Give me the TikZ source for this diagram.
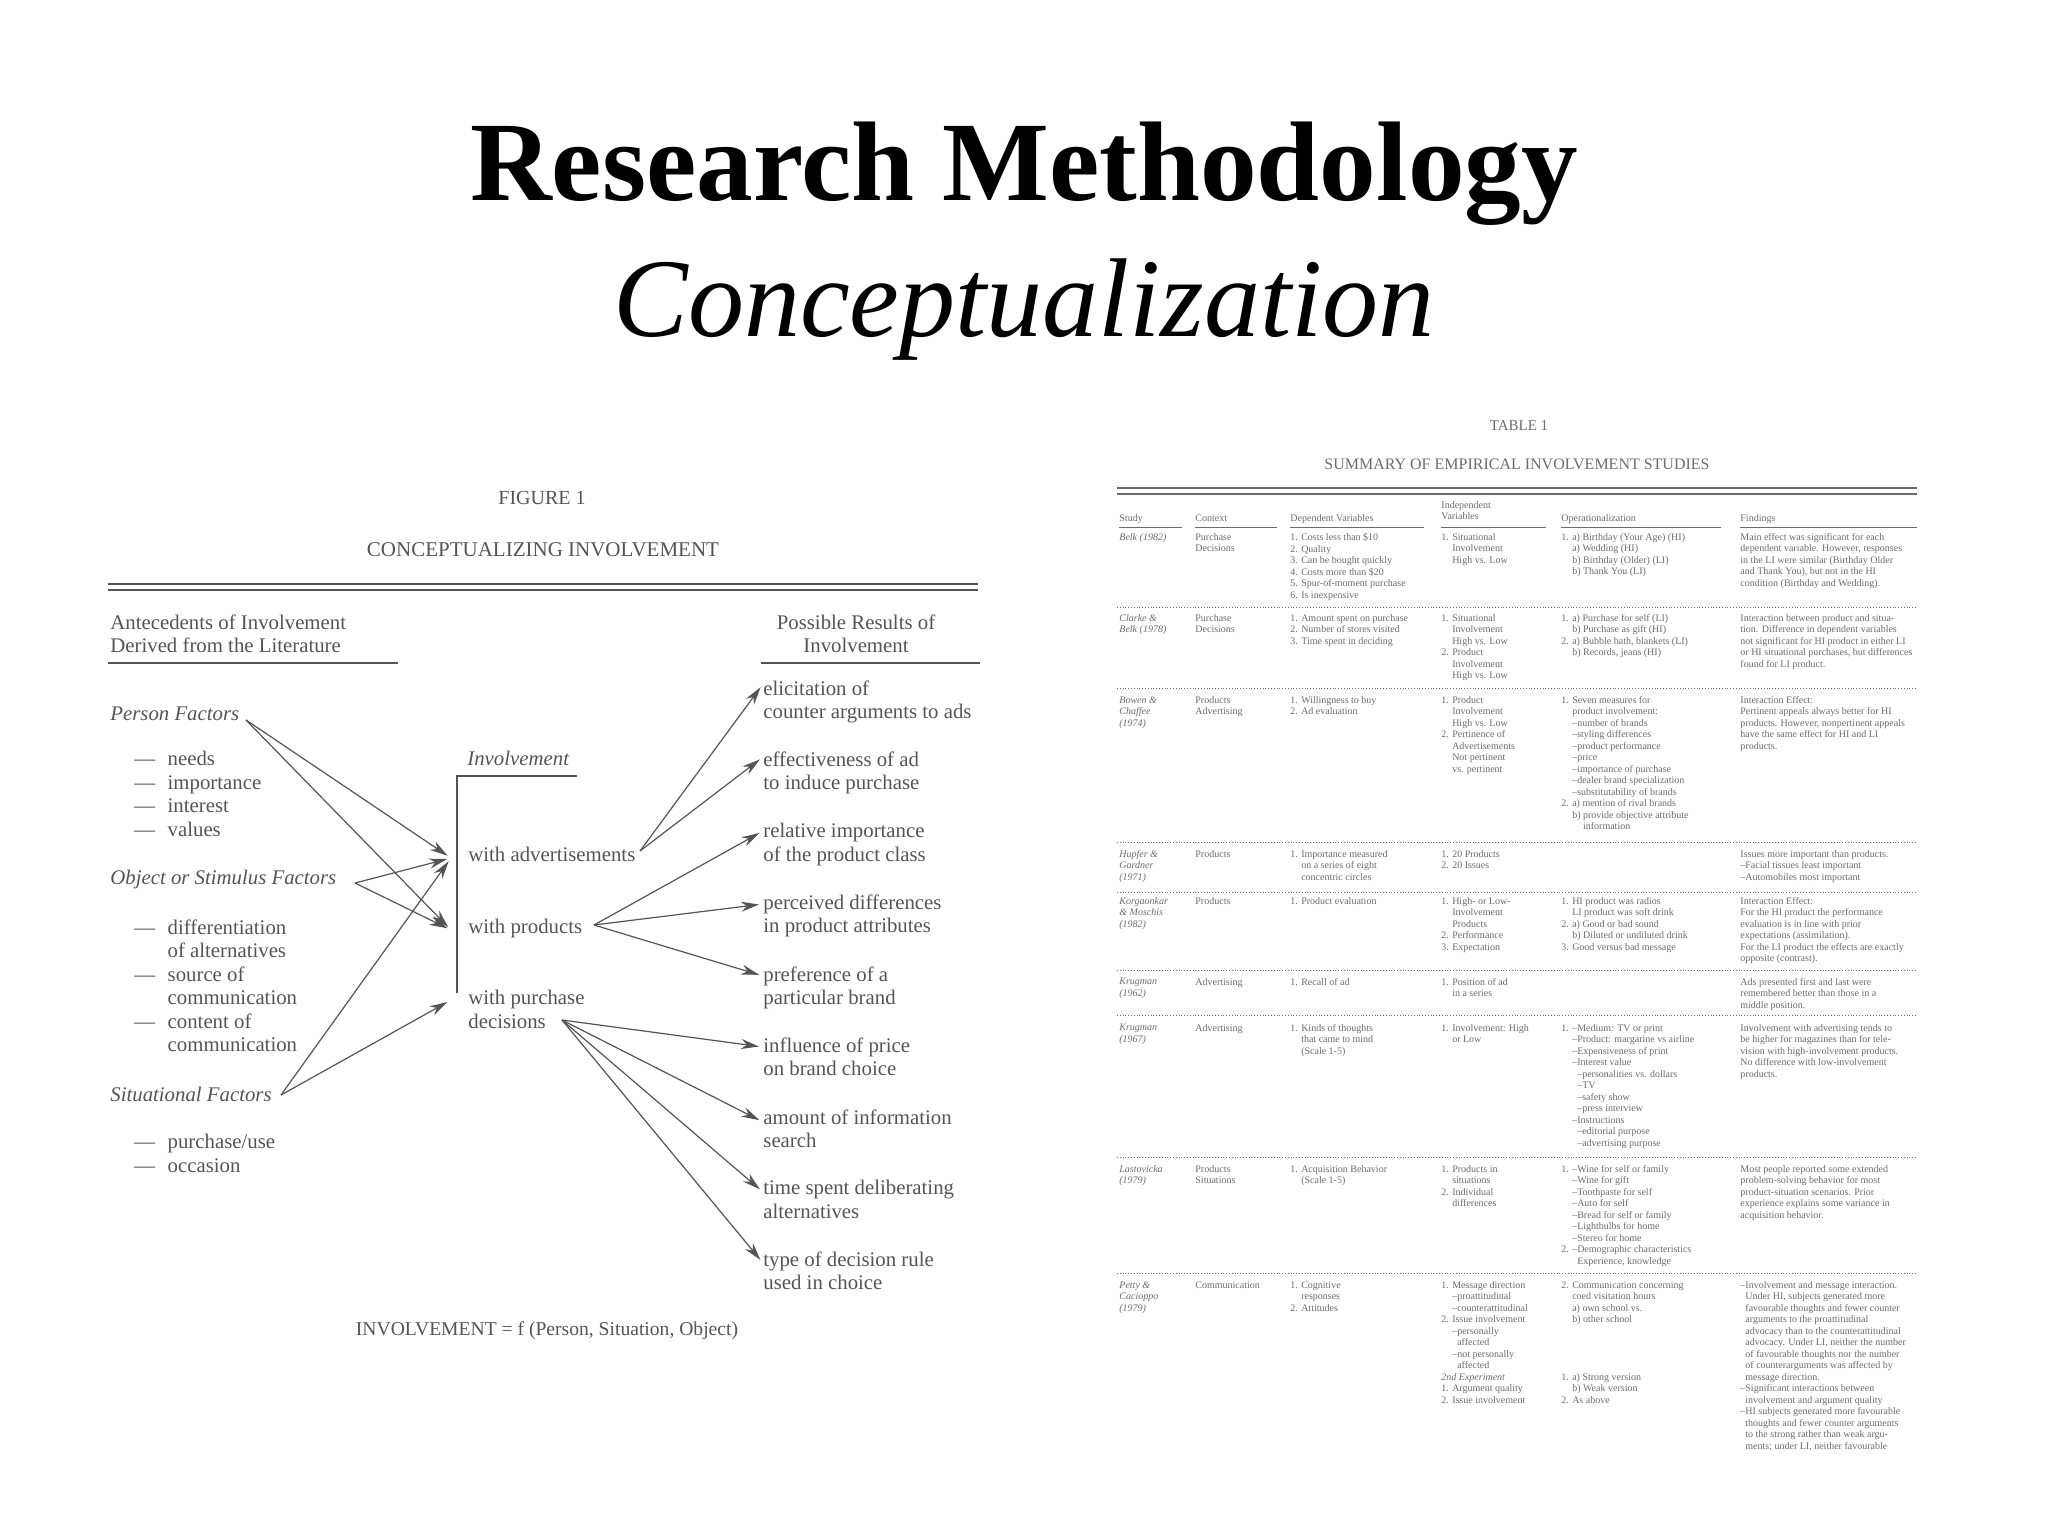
\documentclass[tikz,border=0pt]{standalone}
\usepackage{fontspec}
\setmainfont{Liberation Serif}
\usetikzlibrary{arrows.meta}
\definecolor{fig}{gray}{0.33}
\definecolor{tab}{gray}{0.42}
\tikzset{
 ft/.style={inner sep=0pt,anchor=north west,align=left,text=fig,font=\fontsize{10.4}{11.75}\selectfont},
 fi/.style={ft,font=\fontsize{10.4}{11.75}\selectfont\itshape},
 arr/.style={draw=fig,line width=0.6pt,shorten >=2pt,-{Stealth[length=9pt,width=5pt]}},
 tt/.style={inner sep=0pt,anchor=north west,align=left,text=tab,font=\fontsize{5}{5.75}\selectfont},
 tti/.style={tt,font=\fontsize{5}{5.75}\selectfont\itshape},
 rl/.style={draw=tab,line width=0.4pt},
}
\begin{document}
\begin{tikzpicture}[x=0.5pt,y=-0.5pt]
\useasboundingbox (0,0) rectangle (2048,1536);
% titles
\node[font=\fontsize{56.6}{60}\selectfont\bfseries] (t1) at (1024,174) {Research Methodology};
\node[font=\fontsize{56}{60}\selectfont\itshape] (t2) at (1024,310) {Conceptualization};
% ================= FIGURE 1
\node[text=fig,font=\fontsize{10}{11}\selectfont] (f1) at (542,498) {FIGURE 1};
\node[text=fig,font=\fontsize{10.5}{11}\selectfont] (f2) at (543,550) {CONCEPTUALIZING INVOLVEMENT};
\draw[fig,line width=1pt] (108,584) -- (978,584);
\draw[fig,line width=1pt] (108,590) -- (978,590);
\node[ft] (ant) at (110,614) {Antecedents of Involvement\\Derived from the Literature};
\draw[fig,line width=0.6pt] (108,663) -- (398,663);
\node[ft,align=center,anchor=north] (pos) at (856,614) {Possible Results of\\Involvement};
\draw[fig,line width=0.6pt] (761,663) -- (980,663);
\node[fi] (pf) at (110,706) {Person Factors};
\node[ft] (pl) at (134,751) {---\hspace{0.6em}needs\\---\hspace{0.6em}importance\\---\hspace{0.6em}interest\\---\hspace{0.6em}values};
\node[fi] (of) at (110,870) {Object or Stimulus Factors};
\node[ft] (ol) at (134,919) {---\hspace{0.6em}differentiation\\\phantom{---\hspace{0.6em}}of alternatives\\---\hspace{0.6em}source of\\\phantom{---\hspace{0.6em}}communication\\---\hspace{0.6em}content of\\\phantom{---\hspace{0.6em}}communication};
\node[fi] (sf) at (110,1087) {Situational Factors};
\node[ft] (sl) at (134,1134) {---\hspace{0.6em}purchase/use\\---\hspace{0.6em}occasion};
\node[fi] (inv) at (467,751) {Involvement};
\draw[fig,line width=0.6pt] (577,776) -- (457,776) -- (457,993);
\node[ft] (wa) at (468,847) {with advertisements};
\node[ft] (wp) at (468,919) {with products};
\node[ft] (wd) at (468,990) {with purchase\\decisions};
\node[ft] (r1) at (763,680) {elicitation of\\counter arguments to ads};
\node[ft] (r2) at (763,751) {effectiveness of ad\\to induce purchase};
\node[ft] (r3) at (763,823) {relative importance\\of the product class};
\node[ft] (r4) at (763,894) {perceived differences\\in product attributes};
\node[ft] (r5) at (763,966) {preference of a\\particular brand};
\node[ft] (r6) at (763,1037) {influence of price\\on brand choice};
\node[ft] (r7) at (763,1109) {amount of information\\search};
\node[ft] (r8) at (763,1180) {time spent deliberating\\alternatives};
\node[ft] (r9) at (763,1251) {type of decision rule\\used in choice};
\node[text=fig,font=\fontsize{9.8}{11}\selectfont] (form) at (547,1331) {INVOLVEMENT = f (Person, Situation, Object)};
% arrow coordinates
\coordinate (ps) at (246,720);
\coordinate (os) at (355,883);
\coordinate (ss) at (281,1095);
\coordinate (ta) at (451,858);
\coordinate (tp) at (451,930);
\coordinate (td) at (451,1000);
\coordinate (sa) at (640,851);
\coordinate (sp) at (594,925);
\coordinate (sd) at (562,1020);
\draw[arr] (ps) -- (ta); \draw[arr] (ps) -- (tp);
\draw[arr] (os) -- (ta); \draw[arr] (os) -- (tp);
\draw[arr] (ss) -- (ta); \draw[arr] (ss) -- (td);
\draw[arr] (sa) -- (r1.west|-0,684);
\draw[arr] (sa) -- (r2.west|-0,757);
\draw[arr] (sp) -- (r3.west|-0,831);
\draw[arr] (sp) -- (r4.west|-0,904);
\draw[arr] (sp) -- (r5.west|-0,976);
\draw[arr] (sd) -- (r6.west|-0,1047);
\draw[arr] (sd) -- (r7.west|-0,1122);
\draw[arr] (sd) -- (r8.west|-0,1192);
\draw[arr] (sd) -- (r9.west|-0,1263);
% ================= TABLE 1
\node[text=tab,font=\fontsize{7.5}{9}\selectfont] (tb1) at (1519,426) {TABLE 1};
\node[text=tab,font=\fontsize{8}{9}\selectfont] (tb2) at (1517,464) {SUMMARY OF EMPIRICAL INVOLVEMENT STUDIES};
\draw[tab,line width=1pt] (1117,488) -- (1917,488);
\draw[tab,line width=0.8pt] (1117,494) -- (1917,494);
\node[tt] (h1) at (1119,514) {Study};
\node[tt] (h2) at (1195,514) {Context};
\node[tt] (h3) at (1290,514) {Dependent Variables};
\node[tt] (h4) at (1441,501) {Independent\\Variables};
\node[tt] (h5) at (1561,514) {Operationalization};
\node[tt] (h6) at (1740,514) {Findings};
\draw[rl] (1119,527) -- (1182,527); \draw[rl] (1195,527) -- (1277,527);
\draw[rl] (1290,527) -- (1424,527); \draw[rl] (1441,527) -- (1546,527);
\draw[rl] (1561,527) -- (1721,527); \draw[rl] (1740,527) -- (1917,527);
\foreach \yy in {607,688,842,892,970,1015,1157,1273} \draw[rl,densely dotted] (1117,\yy) -- (1917,\yy);
% Belk
\node[tti] (a1) at (1119,533) {Belk (1982)};
\node[tt] (a2) at (1195,533) {Purchase\\Decisions};
\node[tt] (a3) at (1290,533) {1. Costs less than \$10\\2. Quality\\3. Can be bought quickly\\4. Costs more than \$20\\5. Spur-of-moment purchase\\6. Is inexpensive};
\node[tt] (a4) at (1441,533) {1. Situational\\\phantom{1. }Involvement\\\phantom{1. }High vs. Low};
\node[tt] (a5) at (1561,533) {1. a) Birthday (Your Age) (HI)\\\phantom{1. }a) Wedding (HI)\\\phantom{1. }b) Birthday (Older) (LI)\\\phantom{1. }b) Thank You (LI)};
\node[tt] (a6) at (1740,533) {Main effect was significant for each\\dependent variable. However, responses\\in the LI were similar (Birthday Older\\and Thank You), but not in the HI\\condition (Birthday and Wedding).};
% Clarke
\node[tti] (b1) at (1119,614) {Clarke \&\\Belk (1978)};
\node[tt] (b2) at (1195,614) {Purchase\\Decisions};
\node[tt] (b3) at (1290,614) {1. Amount spent on purchase\\2. Number of stores visited\\3. Time spent in deciding};
\node[tt] (b4) at (1441,614) {1. Situational\\\phantom{1. }Involvement\\\phantom{1. }High vs. Low\\2. Product\\\phantom{1. }Involvement\\\phantom{1. }High vs. Low};
\node[tt] (b5) at (1561,614) {1. a) Purchase for self (LI)\\\phantom{1. }b) Purchase as gift (HI)\\2. a) Bubble bath, blankets (LI)\\\phantom{1. }b) Records, jeans (HI)};
\node[tt] (b6) at (1740,614) {Interaction between product and situa-\\tion. Difference in dependent variables\\not significant for HI product in either LI\\or HI situational purchases, but differences\\found for LI product.};
% Bowen
\node[tti] (c1) at (1119,696) {Bowen \&\\Chaffee\\(1974)};
\node[tt] (c2) at (1195,696) {Products\\Advertising};
\node[tt] (c3) at (1290,696) {1. Willingness to buy\\2. Ad evaluation};
\node[tt] (c4) at (1441,696) {1. Product\\\phantom{1. }Involvement\\\phantom{1. }High vs. Low\\2. Pertinence of\\\phantom{1. }Advertisements\\\phantom{1. }Not pertinent\\\phantom{1. }vs. pertinent};
\node[tt] (c5) at (1561,696) {1. Seven measures for\\\phantom{1. }product involvement:\\\phantom{1. }--number of brands\\\phantom{1. }--styling differences\\\phantom{1. }--product performance\\\phantom{1. }--price\\\phantom{1. }--importance of purchase\\\phantom{1. }--dealer brand specialization\\\phantom{1. }--substitutability of brands\\2. a) mention of rival brands\\\phantom{1. }b) provide objective attribute\\\phantom{1. b) }information};
\node[tt] (c6) at (1740,696) {Interaction Effect:\\Pertinent appeals always better for HI\\products. However, nonpertinent appeals\\have the same effect for HI and LI\\products.};
% Hupfer
\node[tti] (d1) at (1119,850) {Hupfer \&\\Gardner\\(1971)};
\node[tt] (d2) at (1195,850) {Products};
\node[tt] (d3) at (1290,850) {1. Importance measured\\\phantom{1. }on a series of eight\\\phantom{1. }concentric circles};
\node[tt] (d4) at (1441,850) {1. 20 Products\\2. 20 Issues};
\node[tt] (d6) at (1740,850) {Issues more important than products.\\--Facial tissues least important\\--Automobiles most important};
% Korgaonkar
\node[tti] (e1) at (1119,897) {Korgaonkar\\\& Moschis\\(1982)};
\node[tt] (e2) at (1195,897) {Products};
\node[tt] (e3) at (1290,897) {1. Product evaluation};
\node[tt] (e4) at (1441,897) {1. High- or Low-\\\phantom{1. }Involvement\\\phantom{1. }Products\\2. Performance\\3. Expectation};
\node[tt] (e5) at (1561,897) {1. HI product was radios\\\phantom{1. }LI product was soft drink\\2. a) Good or bad sound\\\phantom{1. }b) Diluted or undiluted drink\\3. Good versus bad message};
\node[tt] (e6) at (1740,897) {Interaction Effect:\\For the HI product the performance\\evaluation is in line with prior\\expectations (assimilation).\\For the LI product the effects are exactly\\opposite (contrast).};
% Krugman 1962
\node[tti] (g1) at (1119,978) {Krugman\\(1962)};
\node[tt] (g2) at (1195,978) {Advertising};
\node[tt] (g3) at (1290,978) {1. Recall of ad};
\node[tt] (g4) at (1441,978) {1. Position of ad\\\phantom{1. }in a series};
\node[tt] (g6) at (1740,978) {Ads presented first and last were\\remembered better than those in a\\middle position.};
% Krugman 1967
\node[tti] (k1) at (1119,1024) {Krugman\\(1967)};
\node[tt] (k2) at (1195,1024) {Advertising};
\node[tt] (k3) at (1290,1024) {1. Kinds of thoughts\\\phantom{1. }that came to mind\\\phantom{1. }(Scale 1-5)};
\node[tt] (k4) at (1441,1024) {1. Involvement: High\\\phantom{1. }or Low};
\node[tt] (k5) at (1561,1024) {1. --Medium: TV or print\\\phantom{1. }--Product: margarine vs airline\\\phantom{1. }--Expensiveness of print\\\phantom{1. }--Interest value\\\phantom{1. --}--personalities vs. dollars\\\phantom{1. --}--TV\\\phantom{1. --}--safety show\\\phantom{1. --}--press interview\\\phantom{1. }--Instructions\\\phantom{1. --}--editorial purpose\\\phantom{1. --}--advertising purpose};
\node[tt] (k6) at (1740,1024) {Involvement with advertising tends to\\be higher for magazines than for tele-\\vision with high-involvement products.\\No difference with low-involvement\\products.};
% Lastovicka
\node[tti] (l1) at (1119,1165) {Lastovicka\\(1979)};
\node[tt] (l2) at (1195,1165) {Products\\Situations};
\node[tt] (l3) at (1290,1165) {1. Acquisition Behavior\\\phantom{1. }(Scale 1-5)};
\node[tt] (l4) at (1441,1165) {1. Products in\\\phantom{1. }situations\\2. Individual\\\phantom{1. }differences};
\node[tt] (l5) at (1561,1165) {1. --Wine for self or family\\\phantom{1. }--Wine for gift\\\phantom{1. }--Toothpaste for self\\\phantom{1. }--Auto for self\\\phantom{1. }--Bread for self or family\\\phantom{1. }--Lightbulbs for home\\\phantom{1. }--Stereo for home\\2. --Demographic characteristics\\\phantom{1. --}Experience, knowledge};
\node[tt] (l6) at (1740,1165) {Most people reported some extended\\problem-solving behavior for most\\product-situation scenarios. Prior\\experience explains some variance in\\acquisition behavior.};
% Petty
\node[tti] (m1) at (1119,1281) {Petty \&\\Cacioppo\\(1979)};
\node[tt] (m2) at (1195,1281) {Communication};
\node[tt] (m3) at (1290,1281) {1. Cognitive\\\phantom{1. }responses\\2. Attitudes};
\node[tt] (m4) at (1441,1281) {1. Message direction\\\phantom{1. }--proattitudinal\\\phantom{1. }--counterattitudinal\\2. Issue involvement\\\phantom{1. }--personally\\\phantom{1. --}affected\\\phantom{1. }--not personally\\\phantom{1. --}affected\\\textit{2nd Experiment}\\1. Argument quality\\2. Issue involvement};
\node[tt] (m5) at (1561,1281) {2. Communication concerning\\\phantom{2. }coed visitation hours\\\phantom{2. }a) own school vs.\\\phantom{2. }b) other school\\ \\ \\ \\ \\1. a) Strong version\\\phantom{1. }b) Weak version\\2. As above};
\node[tt] (m6) at (1740,1281) {--Involvement and message interaction.\\\phantom{--}Under HI, subjects generated more\\\phantom{--}favourable thoughts and fewer counter\\\phantom{--}arguments to the proattitudinal\\\phantom{--}advocacy than to the counterattitudinal\\\phantom{--}advocacy. Under LI, neither the number\\\phantom{--}of favourable thoughts nor the number\\\phantom{--}of counterarguments was affected by\\\phantom{--}message direction.\\--Significant interactions between\\\phantom{--}involvement and argument quality\\--HI subjects generated more favourable\\\phantom{--}thoughts and fewer counter arguments\\\phantom{--}to the strong rather than weak argu-\\\phantom{--}ments; under LI, neither favourable};
\end{tikzpicture}
\end{document}
